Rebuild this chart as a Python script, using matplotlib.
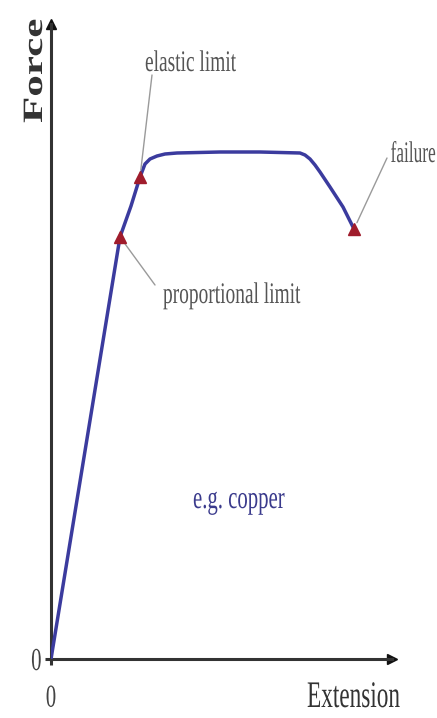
import matplotlib
matplotlib.use('Agg')
import matplotlib.pyplot as plt
import matplotlib.patheffects as pe
from matplotlib.transforms import Affine2D

plt.rcParams['font.family'] = ['Liberation Serif', 'DejaVu Serif']

# force-extension curve for copper (arbitrary units)
ext = [0, 69, 80, 89, 94, 99, 106, 114, 126, 169, 209, 249, 254, 259, 264, 269, 279, 292, 303]
force = [0, 422, 453, 482, 495, 500, 503, 505, 506, 507, 507, 506, 504, 500, 494, 487, 472, 452, 430]

# marked points on the curve
limit_names = ['proportional limit', 'elastic limit', 'failure']
limit_ext = [69, 89, 303]
limit_force = [422, 482, 430]

# where each label sits (left or right end of baseline) and where its leader line stops
label_pos = [(112, 356), (94, 588), (385, 497)]
label_ha = ['left', 'left', 'right']
label_squeeze = [0.65, 0.65, 0.58]
leader_end = [(104, 374), (101, 584), (336, 501)]

material = 'e.g. copper'


class Squeeze(pe.AbstractPathEffect):
    """Draw text narrower than the font, like the squashed original picture."""

    def __init__(self, sx=1.0, sy=1.0, about='left'):
        super().__init__()
        self.sx, self.sy, self.about = sx, sy, about

    def draw_path(self, renderer, gc, tpath, affine, rgbFace=None):
        ext_ = tpath.get_extents()
        x0 = {'left': 0.0, 'center': (ext_.x0 + ext_.x1) / 2, 'right': ext_.x1}[self.about]
        t = Affine2D().translate(-x0, 0).scale(self.sx, self.sy).translate(x0, 0)
        renderer.draw_path(gc, tpath, t + affine, rgbFace)


fig = plt.figure(figsize=(4.37, 7.18), dpi=100)
ax = fig.add_axes([51 / 437, 59 / 718, (392 - 51) / 437, (659 - 24) / 718])
ax.set_xlim(0, 341)
ax.set_ylim(0, 635)

for s in ['top', 'right']:
    ax.spines[s].set_visible(False)
for s in ['left', 'bottom']:
    ax.spines[s].set_linewidth(2.2)
    ax.spines[s].set_color('#333333')

# arrow heads on the axes
ax.plot(1, 0, '>', color='#111111', ms=7, transform=ax.get_yaxis_transform(), clip_on=False)
ax.plot(0, 1, '^', color='#111111', ms=7, transform=ax.get_xaxis_transform(), clip_on=False)

ax.set_xticks([0])
ax.set_yticks([0])
ax.tick_params(length=4.5, width=2.2, color='#333333', labelsize=23, labelcolor='#444444')
ax.tick_params(axis='x', pad=14)
ax.tick_params(axis='y', pad=2)
for lbl in ax.get_xticklabels():
    lbl.set_path_effects([Squeeze(0.65, 1.0, 'center')])
for lbl in ax.get_yticklabels():
    lbl.set_path_effects([Squeeze(0.65, 1.0, 'right')])

ax.plot(ext, force, color='#3b3b9e', lw=2.5, solid_capstyle='round', zorder=3)
ax.plot(limit_ext, limit_force, '^', color='#a01c2c', ms=9, zorder=4)

for name, (tx, ty), ha, sq, (lx, ly), x, y in zip(limit_names, label_pos, label_ha, label_squeeze,
                                                  leader_end, limit_ext, limit_force):
    ax.annotate('', xy=(x, y), xytext=(lx, ly),
                arrowprops=dict(arrowstyle='-', color='#9a9a9a', lw=1.0, shrinkA=0, shrinkB=5))
    ax.text(tx, ty, name, fontsize=21.5, color='#555555', ha=ha, va='baseline',
            path_effects=[Squeeze(sq, 1.0, ha)], clip_on=False)

ax.text(142, 151, material, fontsize=23, color='#3a3a8c', ha='left', va='baseline',
        path_effects=[Squeeze(0.65, 1.0)])
ax.text(349, -48, 'Extension', fontsize=27, color='#333333', ha='right', va='baseline',
        path_effects=[Squeeze(0.62, 1.0, 'right')], clip_on=False)
ax.text(-9, 536, 'Force', fontsize=31, fontweight='bold', color='#333333', rotation=90,
        rotation_mode='anchor', ha='left', va='baseline',
        path_effects=[Squeeze(1.0, 0.65)], clip_on=False)

fig.savefig('out.png', dpi=100)
